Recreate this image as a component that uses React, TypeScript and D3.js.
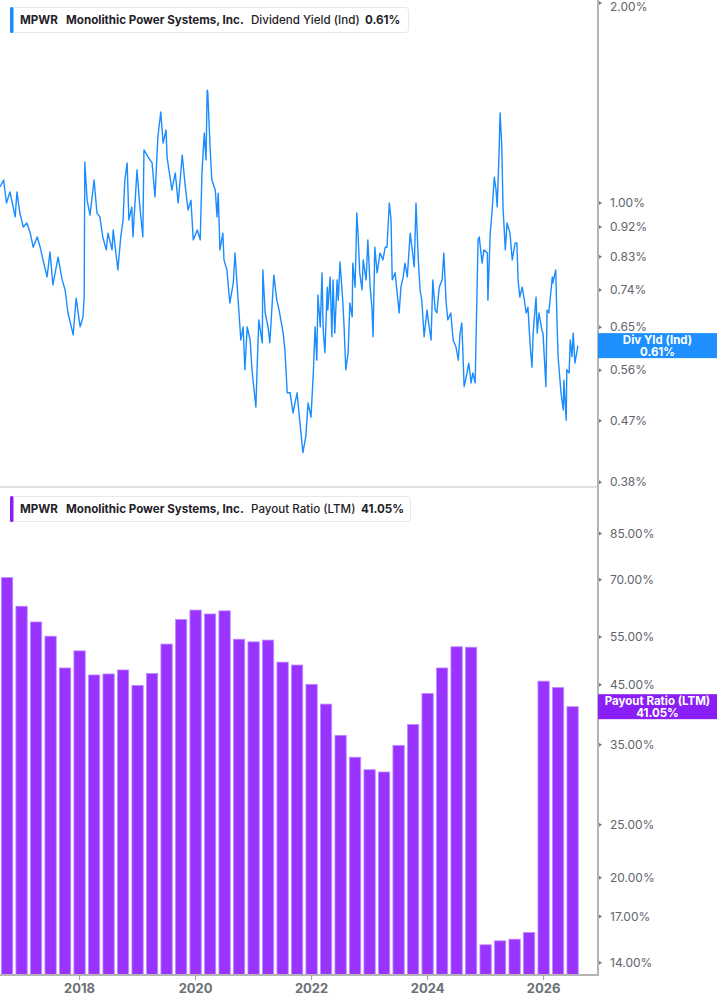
import * as d3 from 'd3';

// dividend yield (Ind), %, sampled from the daily line
const yieldYears = [
  2016.63, 2016.69, 2016.74, 2016.8, 2016.89, 2016.92, 2016.97, 2017.03, 2017.09, 2017.15,
  2017.2, 2017.27, 2017.32, 2017.37, 2017.44, 2017.49, 2017.54, 2017.63, 2017.7, 2017.75,
  2017.8, 2017.89, 2017.94, 2018.01, 2018.06, 2018.08, 2018.09, 2018.13, 2018.18, 2018.25,
  2018.3, 2018.35, 2018.4, 2018.46, 2018.49, 2018.56, 2018.58, 2018.66, 2018.71, 2018.75,
  2018.78, 2018.82, 2018.85, 2018.9, 2018.92, 2018.99, 2019.04, 2019.09, 2019.11, 2019.18,
  2019.25, 2019.3, 2019.35, 2019.4, 2019.44, 2019.49, 2019.51, 2019.56, 2019.59, 2019.65,
  2019.7, 2019.77, 2019.82, 2019.87, 2019.92, 2019.96, 2020.03, 2020.08, 2020.11, 2020.15,
  2020.18, 2020.2, 2020.21, 2020.25, 2020.28, 2020.34, 2020.37, 2020.39, 2020.42, 2020.47,
  2020.49, 2020.54, 2020.59, 2020.65, 2020.68, 2020.71, 2020.78, 2020.82, 2020.85, 2020.89,
  2020.94, 2020.97, 2020.99, 2021.04, 2021.06, 2021.09, 2021.15, 2021.16, 2021.2, 2021.25,
  2021.28, 2021.35, 2021.4, 2021.44, 2021.51, 2021.54, 2021.58, 2021.63, 2021.68, 2021.75,
  2021.8, 2021.85, 2021.9, 2021.94, 2021.99, 2022.03, 2022.06, 2022.09, 2022.11, 2022.15,
  2022.18, 2022.2, 2022.23, 2022.27, 2022.28, 2022.32, 2022.35, 2022.37, 2022.4, 2022.44,
  2022.46, 2022.49, 2022.54, 2022.56, 2022.59, 2022.63, 2022.66, 2022.7, 2022.71, 2022.75,
  2022.78, 2022.8, 2022.83, 2022.87, 2022.89, 2022.94, 2022.97, 2023.01, 2023.04, 2023.06,
  2023.09, 2023.13, 2023.18, 2023.23, 2023.27, 2023.3, 2023.34, 2023.37, 2023.39, 2023.44,
  2023.47, 2023.51, 2023.54, 2023.58, 2023.61, 2023.65, 2023.7, 2023.73, 2023.77, 2023.8,
  2023.84, 2023.87, 2023.9, 2023.94, 2023.99, 2024.01, 2024.06, 2024.09, 2024.13, 2024.16,
  2024.2, 2024.25, 2024.28, 2024.32, 2024.35, 2024.4, 2024.44, 2024.49, 2024.53, 2024.56,
  2024.59, 2024.63, 2024.68, 2024.71, 2024.75, 2024.78, 2024.82, 2024.84, 2024.87, 2024.89,
  2024.94, 2024.97, 2025.03, 2025.04, 2025.08, 2025.11, 2025.15, 2025.18, 2025.2, 2025.23,
  2025.25, 2025.28, 2025.3, 2025.34, 2025.37, 2025.42, 2025.46, 2025.51, 2025.54, 2025.56,
  2025.59, 2025.63, 2025.66, 2025.7, 2025.73, 2025.77, 2025.8, 2025.82, 2025.87, 2025.89,
  2025.92, 2025.97, 2025.99, 2026.04, 2026.06, 2026.09, 2026.15, 2026.16, 2026.21, 2026.23,
  2026.25, 2026.3, 2026.34, 2026.35, 2026.39, 2026.4, 2026.44, 2026.46, 2026.49, 2026.51,
  2026.54, 2026.58, 2026.59,
];
const yieldValues = [
  1.058, 1.083, 1.0, 1.039, 0.953, 1.039, 0.966, 0.92, 0.933, 0.901,
  0.858, 0.889, 0.858, 0.821, 0.774, 0.844, 0.753, 0.829, 0.766, 0.74,
  0.683, 0.633, 0.719, 0.651, 0.674, 0.727, 1.153, 1.01, 0.959, 1.083,
  0.966, 0.953, 0.889, 0.85, 0.901, 0.85, 0.911, 0.793, 0.889, 0.943,
  1.083, 1.149, 0.943, 0.986, 0.889, 1.121, 0.986, 0.889, 1.202, 1.173,
  1.149, 1.021, 1.257, 1.371, 1.231, 1.288, 1.169, 1.094, 1.046, 1.11,
  1.0, 1.181, 1.064, 0.976, 1.01, 0.88, 0.911, 0.88, 1.11, 1.275,
  1.161, 1.479, 1.47, 1.214, 1.083, 1.046, 0.953, 1.035, 0.85, 0.901,
  0.821, 0.793, 0.707, 0.758, 0.841, 0.766, 0.622, 0.651, 0.561, 0.651,
  0.622, 0.566, 0.541, 0.493, 0.561, 0.667, 0.616, 0.793, 0.683, 0.651,
  0.616, 0.779, 0.714, 0.69, 0.637, 0.601, 0.518, 0.518, 0.483, 0.518,
  0.466, 0.421, 0.445, 0.5, 0.476, 0.555, 0.651, 0.58, 0.727, 0.651,
  0.785, 0.644, 0.595, 0.747, 0.69, 0.774, 0.629, 0.766, 0.637, 0.766,
  0.714, 0.815, 0.707, 0.651, 0.561, 0.595, 0.707, 0.674, 0.812, 0.747,
  0.966, 0.901, 0.785, 0.74, 0.821, 0.766, 0.88, 0.747, 0.697, 0.629,
  0.858, 0.785, 0.841, 0.821, 0.858, 0.858, 1.0, 0.943, 0.766, 0.785,
  0.74, 0.683, 0.747, 0.774, 0.812, 0.774, 0.901, 0.858, 0.801, 1.0,
  0.821, 0.74, 0.714, 0.629, 0.69, 0.667, 0.622, 0.766, 0.69, 0.683,
  0.747, 0.766, 0.841, 0.707, 0.667, 0.683, 0.622, 0.607, 0.58, 0.637,
  0.66, 0.529, 0.555, 0.574, 0.536, 0.555, 0.536, 0.651, 0.88, 0.889,
  0.812, 0.85, 0.841, 0.714, 0.901, 0.966, 1.094, 1.046, 0.986, 1.173,
  1.366, 1.214, 0.986, 0.85, 0.933, 0.901, 0.821, 0.871, 0.871, 0.766,
  0.722, 0.747, 0.722, 0.683, 0.697, 0.607, 0.566, 0.637, 0.722, 0.637,
  0.683, 0.644, 0.637, 0.529, 0.69, 0.683, 0.774, 0.758, 0.793, 0.667,
  0.587, 0.518, 0.488, 0.541, 0.471, 0.561, 0.555, 0.622, 0.587, 0.637,
  0.574, 0.601, 0.61,
];

// payout ratio (LTM), %, one bar per quarter
const payoutQuarters = [
  '2016Q3', '2016Q4',
  '2017Q1', '2017Q2', '2017Q3', '2017Q4',
  '2018Q1', '2018Q2', '2018Q3', '2018Q4',
  '2019Q1', '2019Q2', '2019Q3', '2019Q4',
  '2020Q1', '2020Q2', '2020Q3', '2020Q4',
  '2021Q1', '2021Q2', '2021Q3', '2021Q4',
  '2022Q1', '2022Q2', '2022Q3', '2022Q4',
  '2023Q1', '2023Q2', '2023Q3', '2023Q4',
  '2024Q1', '2024Q2', '2024Q3', '2024Q4',
  '2025Q1', '2025Q2', '2025Q3', '2025Q4',
  '2026Q1', '2026Q2',
];
const payoutValues = [
  70.6, 62.6, 58.6, 55.2, 48.3, 51.9, 46.9, 47.1, 47.9, 44.9,
  47.2, 53.4, 59.2, 61.6, 60.6, 61.4, 54.5, 53.9, 54.3, 49.5,
  48.9, 45.1, 41.5, 36.4, 33.2, 31.5, 31.2, 34.9, 38.1, 43.4,
  48.3, 52.8, 52.7, 15.1, 15.35, 15.46, 15.9, 45.7, 44.5, 41.05,
];

const yieldTicks = [2.0, 1.0, 0.92, 0.83, 0.74, 0.65, 0.56, 0.47, 0.38];
const payoutTicks = [85, 70, 55, 45, 35, 25, 20, 17, 14];
const yearTicks = [2018, 2020, 2022, 2024, 2026];

const width = 717;
const height = 1005;
const plotRight = 598;
const font = 'Inter, Roboto, "Noto Sans", sans-serif';
const blue = '#1a8cff';
const purple = '#9933ff';
const purpleDark = '#8a1ff5';

const quarterToYear = (q: string) => +q.slice(0, 4) + +q.slice(5) * 0.25;

function Legend({ y, color, metric, value, valueX, boxW }: {
  y: number; color: string; metric: string; value: string; valueX: number; boxW: number;
}) {
  return (
    <g transform={`translate(10,${y})`}>
      <rect x={0.5} y={0.5} width={boxW} height={25} rx={3} fill="#fff" stroke="#e8e8e8" />
      <rect x={0} y={0} width={3.5} height={26} rx={1.5} fill={color} />
      <text y={17} fontFamily={font} fontSize={11.6} fill="#1f2329">
        <tspan x={10} fontWeight={700}>MPWR</tspan>
        <tspan x={56} fontWeight={700}>Monolithic Power Systems, Inc.</tspan>
        <tspan x={241} fontWeight={500}>{metric}</tspan>
        <tspan x={valueX} fontWeight={700}>{value}</tspan>
      </text>
    </g>
  );
}

export default function App() {
  const x = d3.scaleLinear().domain([2016.628, 2026.938]).range([0, plotRight]);
  const yTop = d3.scaleLog().domain([0.3737, 2.021]).range([487, 0]);
  const yBot = d3.scaleLog().domain([13.3, 102]).range([975, 490]);

  const linePts = yieldYears.map((t, i) => [t, yieldValues[i]] as [number, number]);
  const line = d3
    .line<[number, number]>()
    .x((d) => x(d[0]))
    .y((d) => yTop(d[1]))(linePts);

  const step = x(2017.25) - x(2017);
  const barW = step * 0.78;

  const lastYield = yieldValues[yieldValues.length - 1];
  const lastPayout = payoutValues[payoutValues.length - 1];

  return (
    <svg
      width={width}
      height={height}
      style={{ position: 'absolute', left: 0, top: 0, display: 'block', background: '#fff' }}
    >
      {/* separator between panels */}
      <line x1={0} x2={plotRight} y1={487} y2={487} stroke="#e0e0e0" strokeWidth={2} />

      {/* dividend yield line */}
      <path d={line ?? ''} fill="none" stroke={blue} strokeWidth={1.4} strokeLinejoin="round" />

      {/* payout bars */}
      {payoutQuarters.map((q, i) => {
        const cx = x(quarterToYear(q));
        const top = yBot(payoutValues[i]);
        return (
          <rect
            key={q}
            x={cx - barW / 2}
            y={top}
            width={barW}
            height={975 - top}
            fill={purple}
            stroke="#c08cff"
            strokeWidth={0.8}
          />
        );
      })}

      {/* right axis */}
      <line x1={plotRight} x2={plotRight} y1={0} y2={975} stroke="#b5b5b5" strokeWidth={2} />
      {yieldTicks.map((t) => (
        <g key={'yt' + t} transform={`translate(${plotRight},${yTop(t)})`}>
          <path d="M1,-2L4,0L1,2Z" fill="#777" />
          <text x={12} y={Math.max(0, 7 - yTop(t))} dy="0.35em" fontFamily={font} fontSize={12} fill="#60646b">
            {t.toFixed(2)}%
          </text>
        </g>
      ))}
      {payoutTicks.map((t) => (
        <g key={'pt' + t} transform={`translate(${plotRight},${yBot(t)})`}>
          <path d="M1,-2L4,0L1,2Z" fill="#777" />
          <text x={12} dy="0.35em" fontFamily={font} fontSize={12} fill="#60646b">
            {t.toFixed(2)}%
          </text>
        </g>
      ))}

      {/* bottom axis */}
      <line x1={0} x2={plotRight + 1} y1={975} y2={975} stroke="#b5b5b5" strokeWidth={2} />
      {yearTicks.map((t) => (
        <g key={'x' + t} transform={`translate(${x(t)},975)`}>
          <line y1={1} y2={5} stroke="#999" />
          <text y={18} textAnchor="middle" fontFamily={font} fontSize={13} fontWeight={700} fill="#6b6f76">
            {t}
          </text>
        </g>
      ))}

      {/* last-value labels */}
      <g transform={`translate(${plotRight},${yTop(lastYield)})`}>
        <rect x={0} y={-12.5} width={width - plotRight} height={25} fill="#1e8fff" />
        <text x={(width - plotRight) / 2} y={-1.5} textAnchor="middle" fontFamily={font} fontSize={11.5} fontWeight={700} fill="#fff">
          Div Yld (Ind)
        </text>
        <text x={(width - plotRight) / 2} y={10.5} textAnchor="middle" fontFamily={font} fontSize={11.5} fontWeight={700} fill="#fff">
          {lastYield.toFixed(2)}%
        </text>
      </g>
      <g transform={`translate(${plotRight},${yBot(lastPayout)})`}>
        <rect x={0} y={-12.5} width={width - plotRight} height={25} fill={purpleDark} />
        <text x={(width - plotRight) / 2} y={-1.5} textAnchor="middle" fontFamily={font} fontSize={11.5} fontWeight={700} fill="#fff">
          Payout Ratio (LTM)
        </text>
        <text x={(width - plotRight) / 2} y={10.5} textAnchor="middle" fontFamily={font} fontSize={11.5} fontWeight={700} fill="#fff">
          {lastPayout.toFixed(2)}%
        </text>
      </g>

      {/* legends */}
      <Legend y={7} color={blue} metric="Dividend Yield (Ind)" value={`${lastYield.toFixed(2)}%`} valueX={355} boxW={398} />
      <Legend y={496} color={purpleDark} metric="Payout Ratio (LTM)" value={`${lastPayout.toFixed(2)}%`} valueX={351} boxW={400} />
    </svg>
  );
}
